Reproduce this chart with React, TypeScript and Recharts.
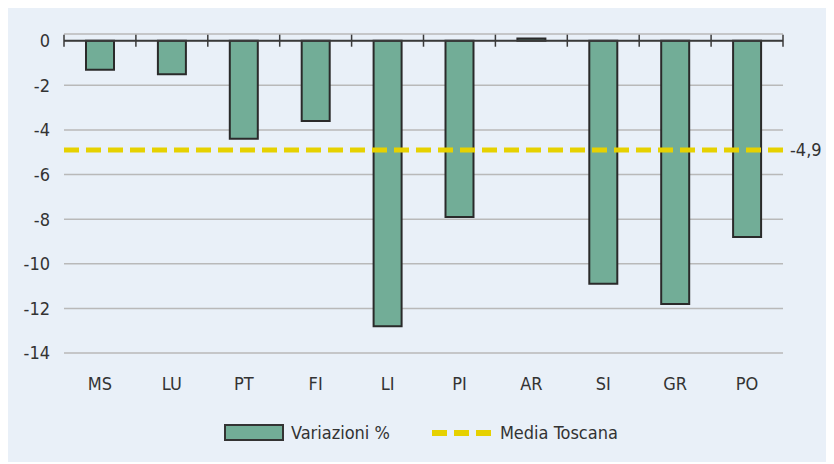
import React from 'react';
import {
  ComposedChart,
  Bar,
  XAxis,
  YAxis,
  CartesianGrid,
  ReferenceLine,
  Legend,
} from 'recharts';

const categories = ['MS', 'LU', 'PT', 'FI', 'LI', 'PI', 'AR', 'SI', 'GR', 'PO'];
const variazioni = [-1.3, -1.5, -4.4, -3.6, -12.8, -7.9, 0.1, -10.9, -11.8, -8.8];
const mediaToscana = -4.9;
const mediaLabel = '-4,9';
const yTicks = [-14, -12, -10, -8, -6, -4, -2, 0];

const data = categories.map((c, i) => ({ cat: c, v: variazioni[i], pos: i }));
// category boundaries: halfway between consecutive category positions
const boundaries = [-0.5, ...categories.map((_, i) => i + 0.5)];

const FONT = '"DejaVu Sans Condensed", "DejaVu Sans", sans-serif';
const FS = 18;
const TEXT = '#333333';
const GREEN = '#72ad97';
const YELLOW = '#e6d100';

const LegendContent = () => (
  <div
    style={{
      height: 40,
      width: 834,
      display: 'flex',
      alignItems: 'flex-start',
      fontFamily: FONT,
      fontStretch: 'condensed',
      fontSize: FS,
      color: TEXT,
    }}
  >
    <div style={{ display: 'flex', alignItems: 'center', marginLeft: 224, marginTop: -2 }}>
      <div
        style={{
          width: 56,
          height: 13,
          background: GREEN,
          border: '2px solid #333',
        }}
      />
      <span style={{ marginLeft: 7 }}>Variazioni %</span>
    </div>
    <div style={{ display: 'flex', alignItems: 'center', marginLeft: 42, marginTop: -2 }}>
      <svg width={60} height={8}>
        <line x1={0} y1={4} x2={60} y2={4} stroke={YELLOW} strokeWidth={6} strokeDasharray="15 7" />
      </svg>
      <span style={{ marginLeft: 8 }}>Media Toscana</span>
    </div>
  </div>
);

export default function App() {
  return (
    <div style={{ position: 'relative', margin: '-8px 0 0 -8px', width: 834, height: 464, background: '#ffffff' }}>
      <div style={{ position: 'absolute', left: 4, top: 6, width: 826, height: 456, background: '#e9f0f8' }} />
      <div style={{ position: 'absolute', left: 0, top: 0 }}>
        <ComposedChart
          width={834}
          height={464}
          data={data}
          margin={{ top: 34, right: 51, bottom: 0, left: 0 }}
          barSize={28}
        >
          <CartesianGrid vertical={false} stroke="#b9b9b9" strokeWidth={1.5} />
          <XAxis
            dataKey="cat"
            axisLine={false}
            tickLine={false}
            height={71}
            tickMargin={18}
            interval={0}
            tick={{ fontSize: FS, fill: TEXT, fontFamily: FONT }}
          />
          <XAxis
            xAxisId="num"
            dataKey="pos"
            type="number"
            domain={[-0.5, 9.5]}
            allowDataOverflow
            hide
          />
          <YAxis
            width={64}
            domain={[-14, 0.3]}
            ticks={yTicks}
            axisLine={false}
            tickLine={false}
            tickMargin={8}
            interval={0}
            tick={{ fontSize: FS, fill: TEXT, fontFamily: FONT }}
          />
          <Bar dataKey="v" name="Variazioni %" fill={GREEN} stroke="#2a2a2a" strokeWidth={2} isAnimationActive={false} />
          <ReferenceLine y={0} stroke="#3a3a3a" strokeWidth={2} />
          {boundaries.map((b) => (
            <ReferenceLine
              key={b}
              xAxisId="num"
              segment={[
                { x: b, y: -0.27 },
                { x: b, y: 0.27 },
              ]}
              stroke="#3a3a3a"
              strokeWidth={1.5}
            />
          ))}
          <ReferenceLine
            y={mediaToscana}
            stroke={YELLOW}
            strokeWidth={5}
            strokeDasharray="15 7"
            label={{ value: mediaLabel, position: 'right', fill: TEXT, fontSize: FS, fontFamily: FONT, offset: 7 }}
          />
          <Legend verticalAlign="bottom" content={<LegendContent />} wrapperStyle={{ left: 0, width: 834, height: 40 }} />
        </ComposedChart>
      </div>
    </div>
  );
}
